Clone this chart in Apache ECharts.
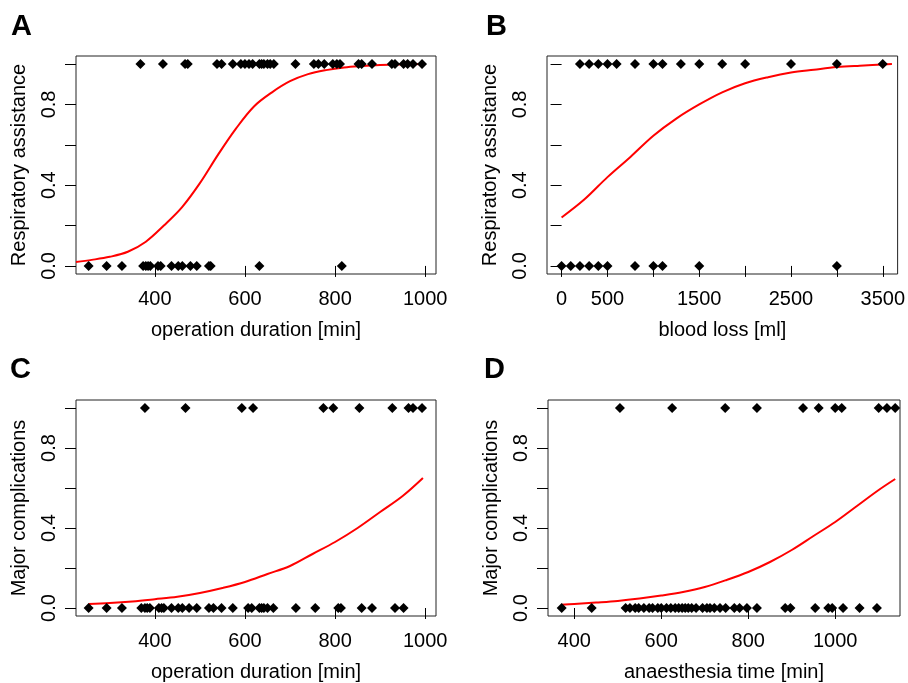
<!DOCTYPE html>
<html>
<head>
<meta charset="utf-8">
<script src="https://cdn.jsdelivr.net/npm/echarts@6/dist/echarts.min.js"></script>
<style>
  html, body { margin: 0; padding: 0; background: #fff; }
  #main { width: 908px; height: 683px; }
</style>
</head>
<body>
<div id="main"></div>
<script>
// A: respiratory assistance vs operation duration
var aYes = [368, 418, 467, 473, 538, 548, 573, 591, 600, 609, 617, 632, 637, 642, 650, 656, 664, 712, 753, 763, 776, 795, 804, 811, 852, 859, 882, 926, 933, 952, 961, 973, 993];
var aNo = [253, 293, 327, 374, 380, 385, 390, 407, 413, 437, 452, 461, 479, 493, 520, 524, 632, 815];
var aCurveX = [225, 260, 300, 340, 380, 420, 460, 500, 540, 580, 620, 660, 700, 740, 780, 820, 860, 900, 940, 1000];
var aCurveY = [0.02, 0.03, 0.045, 0.07, 0.12, 0.2, 0.29, 0.41, 0.55, 0.68, 0.79, 0.86, 0.915, 0.95, 0.97, 0.983, 0.99, 0.995, 0.998, 1.0];

// B: respiratory assistance vs blood loss
var bYes = [200, 300, 400, 500, 600, 800, 1000, 1100, 1300, 1500, 1750, 2000, 2500, 3000, 3500];
var bNo = [0, 100, 200, 300, 400, 500, 800, 1000, 1100, 1500, 3000];
var bCurveX = [0, 250, 500, 750, 1000, 1250, 1500, 1750, 2000, 2250, 2500, 2750, 3000, 3250, 3600];
var bCurveY = [0.24, 0.33, 0.44, 0.54, 0.645, 0.73, 0.8, 0.86, 0.905, 0.935, 0.958, 0.972, 0.985, 0.992, 1.0];

// C: major complications vs operation duration
var cYes = [378, 468, 593, 618, 774, 796, 854, 927, 963, 973, 993];
var cNo = [253, 293, 327, 370, 378, 383, 389, 409, 415, 420, 437, 452, 461, 476, 493, 520, 530, 548, 573, 607, 615, 632, 637, 642, 650, 663, 713, 756, 807, 813, 859, 882, 933, 952];
var cCurveX = [253, 300, 350, 400, 450, 500, 550, 600, 650, 700, 750, 800, 850, 900, 950, 995];
var cCurveY = [0.02, 0.025, 0.033, 0.044, 0.056, 0.075, 0.1, 0.13, 0.17, 0.21, 0.27, 0.33, 0.4, 0.48, 0.56, 0.65];

// D: major complications vs anaesthesia time
var dYes = [505, 625, 747, 820, 926, 962, 1000, 1015, 1100, 1119, 1138];
var dNo = [371, 440, 518, 528, 540, 548, 560, 572, 580, 592, 600, 612, 622, 632, 640, 648, 655, 662, 670, 680, 695, 705, 712, 722, 735, 748, 768, 780, 797, 820, 885, 897, 954, 984, 993, 1018, 1056, 1096];
var dCurveX = [370, 400, 450, 500, 550, 600, 650, 700, 750, 800, 850, 900, 950, 1000, 1050, 1100, 1138];
var dCurveY = [0.016, 0.02, 0.027, 0.035, 0.047, 0.062, 0.08, 0.105, 0.14, 0.18, 0.23, 0.29, 0.36, 0.43, 0.51, 0.59, 0.645];

var yTicks = [0, 0.2, 0.4, 0.6, 0.8, 1.0];
var yLabels = [0, 0.4, 0.8];
var durTicks = [400, 600, 800, 1000];
var bloodTicks = [0, 500, 1000, 1500, 2000, 2500, 3000, 3500];
var bloodLabels = [0, 500, 1500, 2500, 3500];
var anaTicks = [400, 600, 800, 1000];

var FONT = 'Liberation Sans, Arial, sans-serif';

var panels = [
  { letter: 'A', grid: { left: 76, top: 56, width: 360, height: 218 }, xmin: 225, xmax: 1024, ticks: durTicks, labels: durTicks, xname: 'operation duration [min]', yname: 'Respiratory assistance', yes: aYes, no: aNo, cx: aCurveX, cy: aCurveY, lx: 11, ly: 12 },
  { letter: 'B', grid: { left: 547, top: 56, width: 353, height: 218 }, xmin: -159, xmax: 3662, ticks: bloodTicks, labels: bloodLabels, xname: 'blood loss [ml]', yname: 'Respiratory assistance', yes: bYes, no: bNo, cx: bCurveX, cy: bCurveY, lx: 486, ly: 12 },
  { letter: 'C', grid: { left: 76, top: 400, width: 360, height: 218 }, xmin: 225, xmax: 1024, ticks: durTicks, labels: durTicks, xname: 'operation duration [min]', yname: 'Major complications', yes: cYes, no: cNo, cx: cCurveX, cy: cCurveY, lx: 10, ly: 355 },
  { letter: 'D', grid: { left: 548, top: 400, width: 352, height: 218 }, xmin: 339.5, xmax: 1149, ticks: anaTicks, labels: anaTicks, xname: 'anaesthesia time [min]', yname: 'Major complications', yes: dYes, no: dNo, cx: dCurveX, cy: dCurveY, lx: 484, ly: 355 }
];

var option = {
  animation: false,
  backgroundColor: '#fff',
  title: [],
  grid: [],
  xAxis: [],
  yAxis: [],
  series: []
};

panels.forEach(function (p, i) {
  option.title.push({
    text: p.letter, left: p.lx, top: p.ly, padding: 0,
    textStyle: { fontFamily: FONT, fontSize: 29, fontWeight: 'bold', color: '#000' }
  });
  option.grid.push(Object.assign({ show: true, borderColor: '#222', borderWidth: 1, containLabel: false }, p.grid));
  option.xAxis.push({
    gridIndex: i, type: 'value', min: p.xmin, max: p.xmax,
    name: p.xname, nameLocation: 'middle', nameGap: 46,
    nameTextStyle: { fontFamily: FONT, fontSize: 20, color: '#000' },
    axisLine: { show: false },
    axisTick: { show: true, inside: false, length: 11, customValues: p.ticks, lineStyle: { color: '#000', width: 1 } },
    axisLabel: {
      customValues: p.labels, margin: 15, fontFamily: FONT, fontSize: 20, color: '#000',
      formatter: function (v) { return String(v); }
    },
    splitLine: { show: false }
  });
  option.yAxis.push({
    gridIndex: i, type: 'value', min: -0.04, max: 1.04,
    name: p.yname, nameLocation: 'middle', nameGap: 47,
    nameTextStyle: { fontFamily: FONT, fontSize: 20, color: '#000' },
    axisLine: { show: false },
    axisTick: { show: true, inside: false, length: 11, customValues: yTicks, lineStyle: { color: '#000', width: 1 } },
    axisLabel: {
      customValues: yLabels, rotate: 90, margin: 17, align: 'center', verticalAlign: 'bottom',
      fontFamily: FONT, fontSize: 20, color: '#000',
      formatter: function (v) { return Number(v).toFixed(1); }
    },
    splitLine: { show: false }
  });
  option.series.push({
    type: 'line', xAxisIndex: i, yAxisIndex: i, showSymbol: false, smooth: 0.35,
    lineStyle: { color: '#f00', width: 2 }, z: 2,
    data: p.cx.map(function (x, k) { return [x, p.cy[k]]; })
  });
  option.series.push({
    type: 'scatter', xAxisIndex: i, yAxisIndex: i, symbol: 'diamond', symbolSize: [10, 10],
    itemStyle: { color: '#000', opacity: 1 }, z: 3,
    data: p.yes.map(function (x) { return [x, 1]; }).concat(p.no.map(function (x) { return [x, 0]; }))
  });
});

var chart = echarts.init(document.getElementById('main'), null, { renderer: 'canvas' });
chart.setOption(option);
window.addEventListener('resize', chart.resize);
</script>
</body>
</html>
